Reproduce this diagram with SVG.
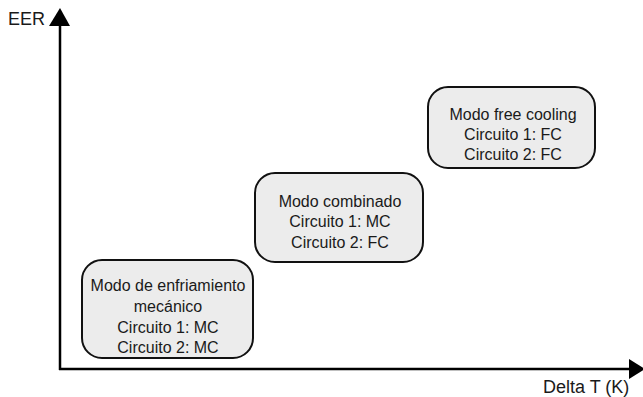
<svg xmlns="http://www.w3.org/2000/svg" width="643" height="397" viewBox="0 0 643 397">
<style>
text{font-family:"Liberation Sans",Arial,sans-serif;font-size:16px;fill:#1a1a1a}
.lab{font-size:18px}
.box{fill:#ececec;stroke:#111;stroke-width:2}
.ax{stroke:#000;stroke-width:2.5;fill:none}
.c{text-anchor:middle}
</style>
<rect width="643" height="397" fill="#fff"/>
<g id="axes">
<line class="ax" x1="60" y1="370" x2="60" y2="22"/>
<polygon points="60,8 49,26 70,26" fill="#000"/>
<line class="ax" x1="59" y1="369" x2="630" y2="369"/>
<polygon points="645,369 629,359 629,379" fill="#000"/>
<text class="lab" x="8" y="25">EER</text>
<text class="lab" x="543" y="393">Delta T (K)</text>
</g>
<g id="node1">
<rect class="box" x="82" y="260" width="171" height="98" rx="20"/>
<text class="c" x="168" y="291">Modo de enfriamiento</text>
<text class="c" x="168" y="312">mecánico</text>
<text class="c" x="168" y="333">Circuito 1: MC</text>
<text class="c" x="168" y="353">Circuito 2: MC</text>
</g>
<g id="node2">
<rect class="box" x="255" y="173" width="168" height="89" rx="20"/>
<text class="c" x="340" y="207">Modo combinado</text>
<text class="c" x="340" y="227">Circuito 1: MC</text>
<text class="c" x="340" y="248">Circuito 2: FC</text>
</g>
<g id="node3">
<rect class="box" x="428" y="87" width="167" height="81" rx="20"/>
<text class="c" x="513" y="120">Modo free cooling</text>
<text class="c" x="513" y="140">Circuito 1: FC</text>
<text class="c" x="513" y="160">Circuito 2: FC</text>
</g>
</svg>
